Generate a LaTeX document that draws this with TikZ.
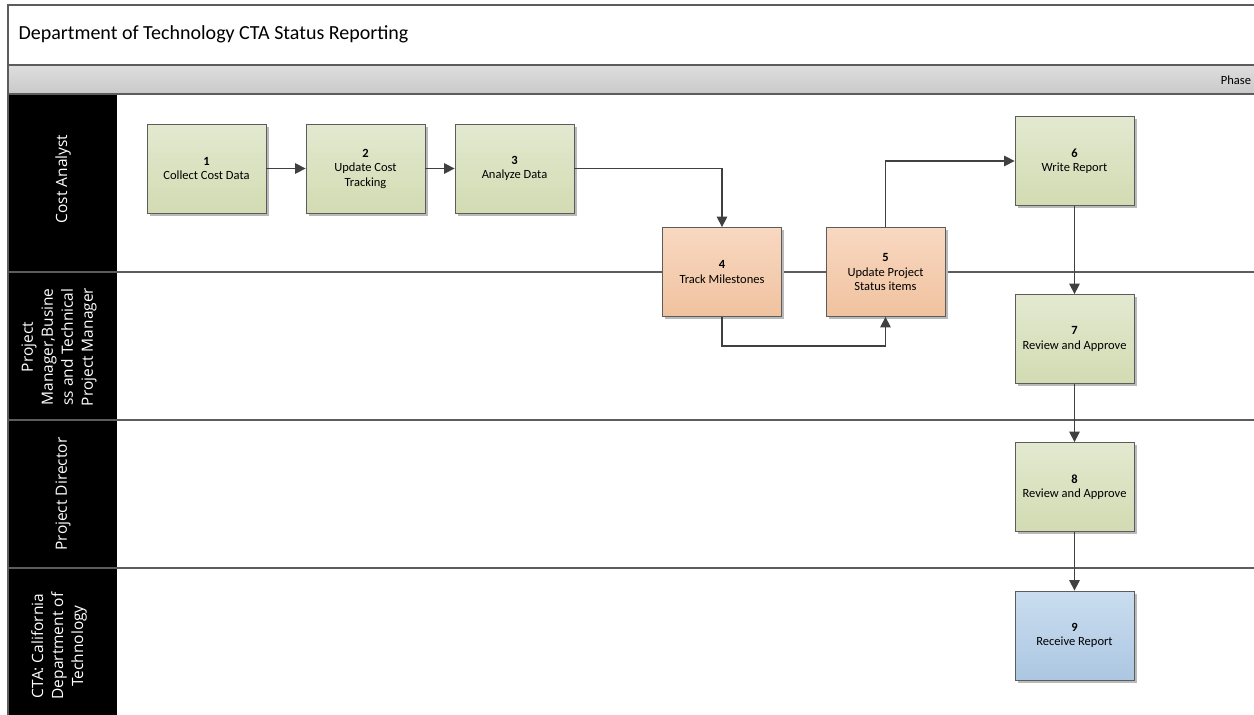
\documentclass[tikz,border=0pt]{standalone}
\usepackage{fontspec}
\setmainfont{Carlito}
\newfontfamily\lanefont{Open Sans}
\usetikzlibrary{arrows.meta,shadows}

\definecolor{edge}{HTML}{5C5C5C}
\definecolor{flowline}{HTML}{404040}
\definecolor{greentop}{HTML}{E3E9D0}
\definecolor{greenbot}{HTML}{D2DBB2}
\definecolor{orangetop}{HTML}{F8D8C1}
\definecolor{orangebot}{HTML}{F0C29F}
\definecolor{bluetop}{HTML}{CADDEF}
\definecolor{bluebot}{HTML}{ACC7E2}
\definecolor{phasetop}{HTML}{DEDEDE}
\definecolor{phasebot}{HTML}{C9C9C9}

\tikzset{
  task/.style={rectangle, draw=edge, line width=0.8pt,
    minimum width=119pt, minimum height=89pt, inner sep=2pt,
    align=center, font=\fontsize{12.5}{14.5}\selectfont,
    drop shadow={shadow xshift=2.5pt, shadow yshift=-2.5pt, fill=gray!55, opacity=1}},
  greentask/.style={task, top color=greentop, bottom color=greenbot},
  orangetask/.style={task, top color=orangetop, bottom color=orangebot},
  bluetask/.style={task, top color=bluetop, bottom color=bluebot},
  flow/.style={draw=flowline, line width=1.4pt,
    -{Triangle[length=10.5pt,width=10.5pt]}},
  laneline/.style={draw=edge, line width=1.2pt},
  lanelabel/.style={rotate=90, text=white, align=center,
    font=\lanefont\fontsize{15.5}{20}\selectfont}
}

\begin{document}
\begin{tikzpicture}[x=1pt,y=-1pt]
\useasboundingbox (0,0) rectangle (1254,715);
\clip (0,0) rectangle (1254,715);

% title band and phase band
\draw[edge, line width=1.4pt, fill=white] (8,5) rectangle (1270,65);
\shade[top color=phasetop, bottom color=phasebot] (8,65) rectangle (1270,94);
\draw[edge, line width=1.4pt] (8,65) -- (1270,65) (8,94) -- (1270,94);
\node[anchor=west, font=\fontsize{20}{22}\selectfont] (title) at (15,34.5)
  {Department of Technology CTA Status Reporting};
\node[anchor=east, font=\fontsize{12.5}{14}\selectfont] (phase) at (1254.5,80) {Phase};

% lane header column
\fill[black] (8,95) rectangle (117,730);
\draw[edge, line width=1.4pt] (8,5) -- (8,730);

% lane separators
\draw[laneline] (8,272) -- (1270,272);
\draw[laneline] (8,420) -- (1270,420);
\draw[laneline] (8,568) -- (1270,568);

% lane titles
\node[lanelabel] (lane1) at (63,179) {Cost Analyst};
\node[lanelabel] (lane2) at (59,347) {Project\\Manager,Busine\\ss and Technical\\Project Manager};
\node[lanelabel] (lane3) at (63,494) {Project Director};
\node[lanelabel] (lane4) at (59,646) {CTA: California\\Department of\\Technology};

% process steps
\node[greentask]  (b1) at (206.5,168.5) {\textbf{1}\\Collect Cost Data};
\node[greentask]  (b2) at (365.5,168.5) {\textbf{2}\\Update Cost\\Tracking};
\node[greentask]  (b3) at (514.5,168.5) {\textbf{3}\\Analyze Data};
\node[orangetask] (b4) at (722,272) {\textbf{4}\\Track Milestones};
\node[orangetask] (b5) at (885.5,272) {\textbf{5}\\Update Project\\Status items};
\node[greentask]  (b6) at (1074.5,161) {\textbf{6}\\Write Report};
\node[greentask]  (b7) at (1074.5,339) {\textbf{7}\\Review and Approve};
\node[greentask]  (b8) at (1074.5,487) {\textbf{8}\\Review and Approve};
\node[bluetask]   (b9) at (1074.5,635.5) {\textbf{9}\\Receive Report};

% flow
\draw[flow] (b1) -- (b2);
\draw[flow] (b2) -- (b3);
\draw[flow] (b3) -| (b4);
\draw[flow] (b4.south) -- ++(0,29) -| (b5.south);
\draw[flow] (b5) |- (b6);
\draw[flow] (b6) -- (b7);
\draw[flow] (b7) -- (b8);
\draw[flow] (b8) -- (b9);
\end{tikzpicture}
\end{document}
